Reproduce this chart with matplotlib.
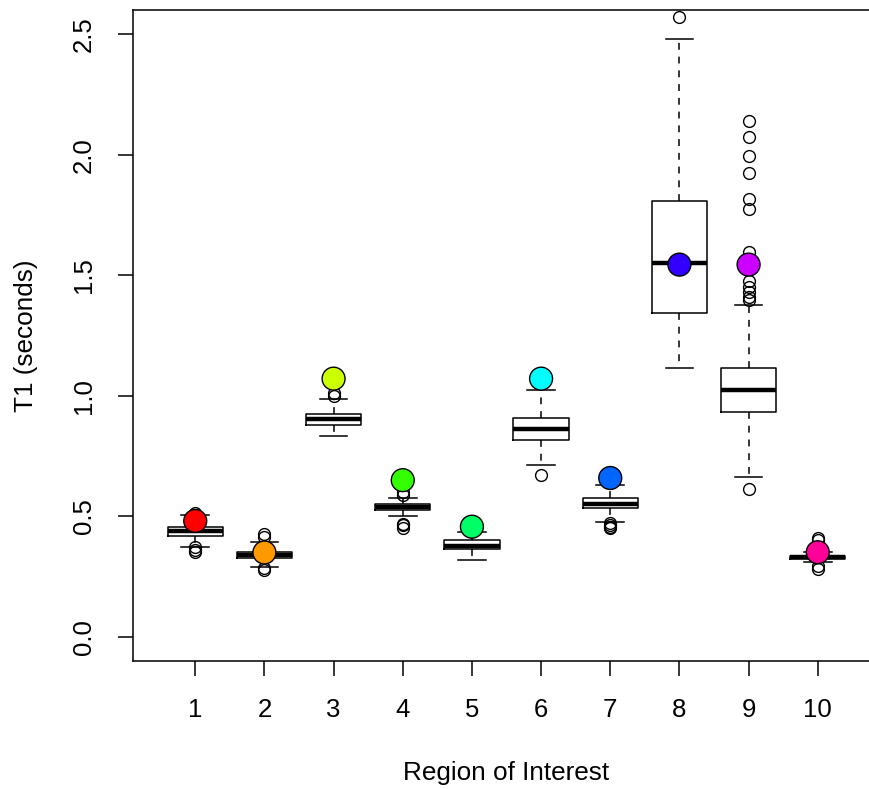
import matplotlib
matplotlib.use("Agg")
import matplotlib.pyplot as plt

plt.rcParams['font.family'] = ['Liberation Sans', 'DejaVu Sans']

regions = [1, 2, 3, 4, 5, 6, 7, 8, 9, 10]
q1 = [0.420, 0.327, 0.877, 0.525, 0.366, 0.815, 0.533, 1.344, 0.934, 0.322]
med = [0.439, 0.340, 0.902, 0.540, 0.378, 0.862, 0.553, 1.551, 1.026, 0.330]
q3 = [0.457, 0.354, 0.926, 0.552, 0.403, 0.906, 0.574, 1.806, 1.116, 0.337]
whislo = [0.371, 0.288, 0.833, 0.502, 0.320, 0.712, 0.475, 1.116, 0.664, 0.309]
whishi = [0.506, 0.395, 0.985, 0.578, 0.436, 1.026, 0.628, 2.481, 1.378, 0.353]
fliers = [
    [0.513, 0.372, 0.362, 0.352],
    [0.426, 0.413, 0.284, 0.276],
    [1.000, 1.010],
    [0.588, 0.600, 0.470, 0.462, 0.452],
    [],
    [0.671],
    [0.472, 0.462, 0.455, 0.450],
    [2.572],
    [2.140, 2.075, 1.996, 1.923, 1.816, 1.774, 1.598,
     1.474, 1.453, 1.432, 1.411, 1.399, 0.615],
    [0.409, 0.400, 0.295, 0.282],
]
highlight = [0.481, 0.350, 1.071, 0.650, 0.457, 1.071, 0.659, 1.544, 1.544, 0.351]
colors = ["#FF0000", "#FF9900", "#CCFF00", "#33FF00", "#00FF66",
          "#00FFFF", "#0066FF", "#3300FF", "#CC00FF", "#FF0099"]
tick_vals = [0.0, 0.5, 1.0, 1.5, 2.0, 2.5]
tick_labels = ["0.0", "0.5", "1.0", "1.5", "2.0", "2.5"]

W, H = 869, 789
fig = plt.figure(figsize=(W / 100, H / 100), dpi=100)
L, R, T, B = 133, 880, 10, 661
ax = fig.add_axes([L / W, (H - B) / H, (R - L) / W, (B - T) / H])

stats = []
for i in range(len(regions)):
    stats.append(dict(med=med[i], q1=q1[i], q3=q3[i],
                      whislo=whislo[i], whishi=whishi[i], fliers=fliers[i]))

lw = 1.1
ax.bxp(stats, positions=regions, widths=0.8, capwidths=0.4, showfliers=True,
       boxprops=dict(color='black', linewidth=lw),
       medianprops=dict(color='black', linewidth=3.2, solid_capstyle='butt'),
       whiskerprops=dict(color='black', linewidth=lw, linestyle=(0, (4.5, 4.5))),
       capprops=dict(color='black', linewidth=lw),
       flierprops=dict(marker='o', markersize=8.5, markerfacecolor='none',
                       markeredgecolor='black', markeredgewidth=1.0))

ax.scatter(regions, highlight, s=16.5 ** 2, c=colors, edgecolors='black',
           linewidths=1.0, zorder=5)

ax.set_xlim(0.1, 10.9)
ax.set_ylim(-0.1, 2.6)
ax.set_xticks(regions)
ax.set_xticklabels([str(r) for r in regions])
ax.set_yticks(tick_vals)
ax.set_yticklabels(tick_labels, rotation=90, va='center')

ax.tick_params(axis='both', direction='out', length=10.8, width=lw,
               labelsize=18.5, color='black')
ax.tick_params(axis='x', pad=15.5)
ax.tick_params(axis='y', pad=16)
for s in ax.spines.values():
    s.set_linewidth(lw)

ax.set_xlabel("Region of Interest", fontsize=18.8, va='center')
ax.xaxis.set_label_coords((506.5 - L) / (R - L), (B - 773) / (B - T))
ax.set_ylabel("T1 (seconds)", fontsize=18.8, va='center')
ax.yaxis.set_label_coords((26 - L) / (R - L), 0.5)

fig.savefig("out.png", dpi=100)
